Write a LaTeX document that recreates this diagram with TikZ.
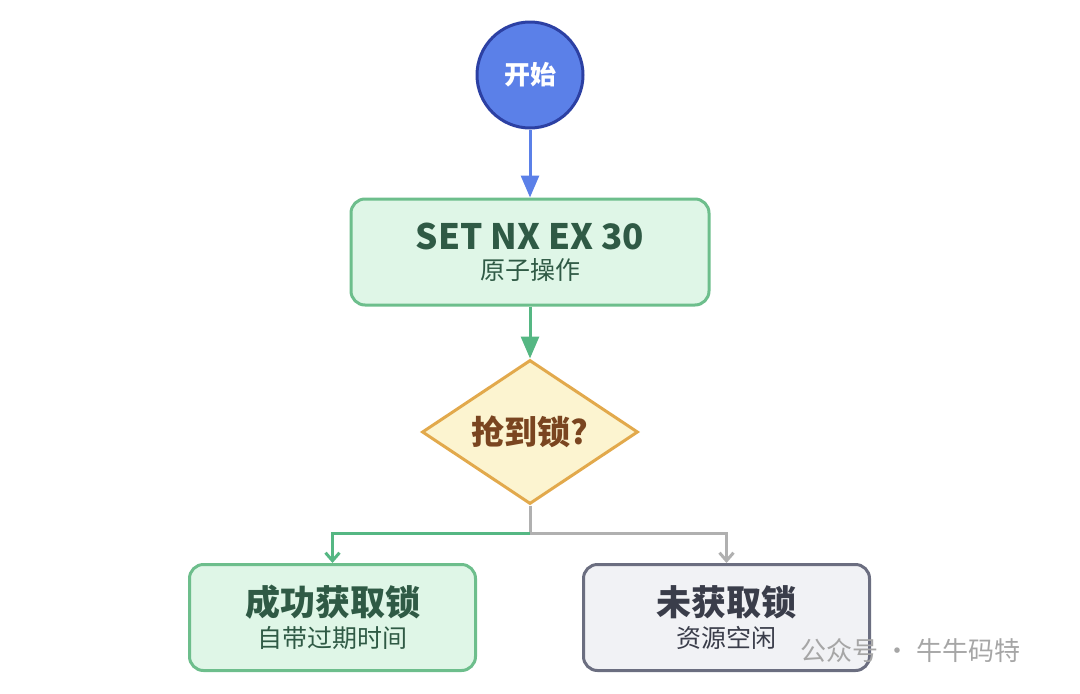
\documentclass[tikz,border=0pt]{standalone}
\usepackage{fontspec}
\setmainfont{Noto Sans CJK SC}
\usetikzlibrary{shapes.geometric,arrows.meta}
\definecolor{blfill}{HTML}{5B80E8}
\definecolor{bldraw}{HTML}{2C40A3}
\definecolor{gfill}{HTML}{DFF6E7}
\definecolor{gdraw}{HTML}{6DBE8C}
\definecolor{gtext}{HTML}{2F5A45}
\definecolor{yfill}{HTML}{FCF4D0}
\definecolor{ydraw}{HTML}{E2A94C}
\definecolor{ytext}{HTML}{7A4520}
\definecolor{sfill}{HTML}{F1F2F5}
\definecolor{sdraw}{HTML}{6B6E80}
\definecolor{stext}{HTML}{3A3D4A}
\definecolor{glink}{HTML}{55B783}
\definecolor{slink}{HTML}{B0B0B0}
\tikzset{
  box/.style={rounded corners=14pt, line width=3pt, minimum width=358pt, minimum height=106pt, align=center, inner sep=0pt},
  arr/.style={line width=3pt, -{Triangle[length=22pt,width=18pt]}},
  arrs/.style={line width=3pt, -{Straight Barb[length=8pt,width=14pt]}}
}
\begin{document}
\begin{tikzpicture}[x=1pt,y=-1pt]
\useasboundingbox (0,0) rectangle (1080,694);
\node[circle, fill=blfill, draw=bldraw, line width=3pt, minimum size=106pt, inner sep=0pt, text=white, font=\bfseries\fontsize{26}{30}\selectfont] (start) at (530,75) {开始};
\node[box, fill=gfill, draw=gdraw, text=gtext] (set) at (530,252) {{\bfseries\fontsize{35}{40}\selectfont SET NX EX 30}\\[8pt]{\fontsize{25}{30}\selectfont 原子操作}};
\node[diamond, aspect=1.5, fill=yfill, draw=ydraw, line width=3pt, minimum width=216pt, minimum height=144pt, inner sep=0pt, text=ytext, font=\bfseries\fontsize{33}{38}\selectfont] (dec) at (530,432) {抢到锁?};
\node[box, minimum width=286pt, fill=gfill, draw=gdraw, text=gtext] (ok) at (332.5,617.5) {{\bfseries\fontsize{35}{40}\selectfont 成功获取锁}\\[6pt]{\fontsize{25}{30}\selectfont 自带过期时间}};
\node[box, minimum width=286pt, fill=sfill, draw=sdraw, text=stext] (no) at (726.5,617.5) {{\bfseries\fontsize{35}{40}\selectfont 未获取锁}\\[6pt]{\fontsize{25}{30}\selectfont 资源空闲}};
\coordinate (j) at (530,533);
\draw[arr, draw=blfill] (start) -- (set);
\draw[arr, draw=glink] (set) -- (dec);
\draw[line width=3pt, slink] (dec.south) -- (j);
\draw[arrs, glink] (j) -| (ok.north);
\draw[arrs, slink] (j) -| (no.north);
\node[text=gray!70, font=\fontsize{26}{30}\selectfont, anchor=west] (wm) at (797,651) {公众号 · 牛牛码特};
\end{tikzpicture}
\end{document}
